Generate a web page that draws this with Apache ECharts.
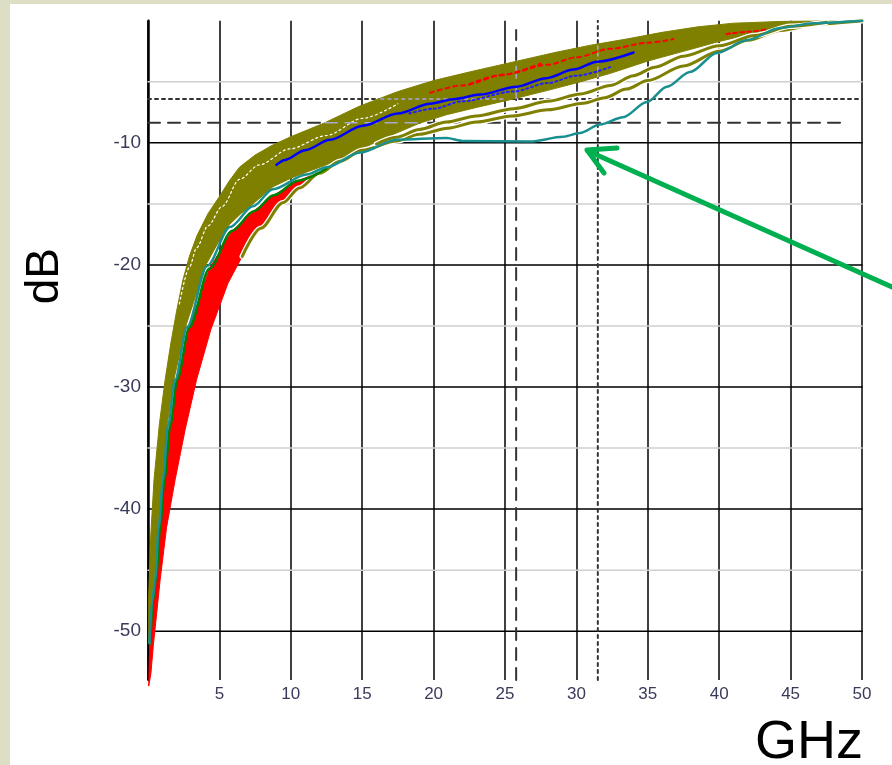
<!DOCTYPE html>
<html><head><meta charset="utf-8">
<script src="https://cdn.jsdelivr.net/npm/echarts@6/dist/echarts.min.js"></script>
<style>
html,body{margin:0;padding:0;background:#dedec4;overflow:hidden;}
#bg{position:absolute;left:10px;top:4px;width:882px;height:761px;background:#fff;}
#chart{position:absolute;left:0;top:0;width:892px;height:765px;}
</style></head><body>
<div id="bg"></div><div id="chart"></div>
<script>
// ---- axis / grid values ----
const xTickStep = 5;
const yMajor = [-10, -20, -30, -40, -50];
const yMinor = [-5, -15, -25, -35, -45];

// ---- olive bundle (upper and lower edges) [GHz, dB] ----
const bandUpper = [[0.05,-47],[0.2,-42],[0.42,-37.6],[0.8,-33],[1.2,-29.4],[1.6,-26.4],[2.0,-23.8],[2.45,-21.2],[2.9,-19.3],[3.43,-17.6],[4.2,-15.8],[5,-14.4],[5.7,-13.1],[6.4,-12.0],[7.5,-11.0],[8.7,-10.2],[10,-9.5],[12.3,-8.4],[14.8,-7.0],[17.5,-5.8],[20,-4.9],[22.5,-4.2],[25.5,-3.4],[28.5,-2.6],[31,-2.0],[33.5,-1.5],[36,-0.95],[38.5,-0.5],[41,-0.2],[44.5,-0.05],[50,0]];
const bandLower = [[0.05,-51],[0.25,-47.5],[0.45,-45.6],[0.7,-41.3],[1.0,-37.4],[1.35,-33.0],[1.85,-29.2],[2.68,-24.9],[3.4,-22.3],[4.1,-19.9],[4.9,-18.2],[5.7,-16.7],[6.5,-15.8],[7.35,-15.0],[8.75,-13.6],[10,-12.9],[11.1,-12.4],[12.5,-11.8],[13.7,-11.2],[14.85,-10.6],[16,-9.9],[17.4,-9.2],[19,-8.4],[20.9,-7.7],[23,-7.1],[25.6,-6.4],[28,-5.7],[30.3,-5.0],[32.4,-4.3],[35,-3.3],[37.5,-2.5],[40,-1.7],[42.5,-1.0],[45,-0.35],[47.5,-0.1],[50,0]];

// ---- red bundle (upper and lower edges) ----
const redUpper = [[0.1,-52],[0.35,-47.5],[0.58,-45.5],[0.85,-41.5],[1.15,-37.6],[1.55,-33.2],[2.05,-29.4],[2.9,-25.1],[4.3,-20.3],[5.9,-17.2],[7.4,-15.6],[8.8,-14.3],[10.5,-13.1],[12.5,-12.2]];
const redLower = [[0.05,-54.5],[0.2,-53.5],[0.37,-51.2],[0.85,-45.8],[1.3,-41.5],[1.9,-37.6],[2.6,-33.5],[3.4,-29.4],[4.4,-25.3],[5.6,-21.5],[6.6,-19.3],[7.9,-17.0],[9.45,-14.9],[11.3,-13.1],[12.5,-12.2]];

// ---- single traces ----
const greenTrace = [[0.15,-51],[0.35,-47.5],[0.58,-45.5],[0.85,-41.5],[1.15,-37.6],[1.55,-33.2],[2.05,-29.4],[2.9,-25.1],[4.3,-20.3],[5.9,-17.2],[7.4,-15.6],[8.8,-14.3],[10.5,-13.1],[12.5,-12.1]];
const tealTrace = [[0.1,-51],[0.3,-47.5],[0.5,-45.8],[0.75,-41.5],[1.05,-37.6],[1.4,-33.2],[1.9,-29.4],[2.73,-25.1],[4.13,-20.1],[5.74,-16.9],[7.35,-15.2],[8.75,-13.8],[11.1,-12.6],[12.5,-12.0],[14.85,-10.8],[17.4,-9.75],[20.9,-9.6],[22.1,-9.85],[26.75,-9.9],[29.06,-9.5],[30.25,-9.2],[31.65,-8.5],[33.26,-7.9],[34.94,-6.65],[36.34,-5.4],[37.95,-4.2],[39.85,-2.64],[41.95,-1.57],[44.26,-0.6],[46.57,-0.2],[50,0]];
const oliveA = [[6.6,-19.3],[7.9,-17.0],[9.45,-14.9],[10.6,-13.7],[12,-12.5],[13.45,-11.5],[15,-10.6],[17.4,-9.85],[19,-9.3],[21,-8.8],[23,-8.3],[25.5,-7.8],[28,-7.3],[30.5,-6.75],[32,-6.3],[33.5,-5.6],[35,-4.9],[37.5,-3.7],[40,-2.5],[42,-1.6],[44.3,-0.8],[47,-0.25],[50,0]];
const oliveB = [[16,-10.1],[17.4,-9.55],[19,-8.9],[20.9,-8.3],[23,-7.8],[25.6,-7.2],[28,-6.6],[30.3,-6.0],[32.4,-5.3],[34,-4.5],[35.5,-3.8],[37.5,-2.9],[40,-2.05],[42.5,-1.2],[45,-0.45],[47.5,-0.12]];
const blueMain = [[9.0,-11.8],[9.6,-11.4],[11,-10.6],[12.75,-9.75],[15.05,-8.6],[17.5,-7.6],[19.75,-6.8],[21.5,-6.4],[23.25,-6.05],[25.8,-5.4],[27.9,-4.7],[29.8,-4.0],[31.45,-3.35],[34,-2.6]];
const blueDotted = [[18.3,-7.6],[20,-7.2],[22,-6.6],[25.6,-5.8],[28,-5.1],[30,-4.5],[32.35,-3.8]];
const redDots1 = [[19.75,-5.9],[22,-5.3],[25,-4.4],[28,-3.6],[30,-3.0],[32.35,-2.3],[35,-1.8],[36.8,-1.5]];
const redDots2 = [[22.5,-5.2],[24.5,-4.5],[27.5,-3.5]];
const redDots3 = [[40.5,-1.1],[42,-0.9],[43.3,-0.7]];
const whiteGap1 = [[2.2,-23.2],[2.9,-20.2],[3.4,-18.6],[4.2,-16.8],[5.2,-15.2],[6.4,-13.0],[7.8,-11.8],[9.9,-10.5],[12.5,-9.4],[15,-8.0],[17.5,-6.8]];

// ---- reference markers ----
const vDashX = 25.78, vDashTop = -0.75;
const vDotX = 31.5;
const hDotY = -6.4;
const hDashY = -8.35, hDashEnd = 49;
const yMin = -54, yMax = 0;
// parts of the markers that cross the olive bundle (drawn light on top of it)
const hDashOverBand = [12.4, 19.1];   // GHz range at hDashY
const hDotOverBand = [16.3, 25.0];    // GHz range at hDotY
const vDashOverBand = [-6.35, -3.35]; // dB range at vDashX
const vDotOverBand = [-4.6, -1.9];    // dB range at vDotX

function polygon(name, upper, lower, color, z) {
  return {
    type: 'custom', name, z, silent: true, data: [[0, 0]],
    renderItem: function (params, api) {
      const pts = upper.map(p => api.coord(p)).concat(lower.slice().reverse().map(p => api.coord(p)));
      return { type: 'polygon', shape: { points: pts }, style: { fill: color, stroke: color, lineWidth: 1 } };
    }
  };
}
function line(data, color, width, z, type, smooth) {
  return {
    type: 'line', data, z, silent: true, showSymbol: false, symbol: 'none',
    smooth: smooth === undefined ? 0.3 : smooth, smoothMonotone: 'x',
    lineStyle: { color, width, type: type || 'solid', cap: 'round' }
  };
}

const series = [];
// grid horizontals
yMajor.forEach(v => series.push(line([[0, v], [50, v]], '#000', 1.5, 1, 'solid', false)));
yMinor.forEach(v => series.push(line([[0, v], [50, v]], '#d0d0d0', 1.5, 1, 'solid', false)));
// reference lines
series.push(line([[vDashX, yMin], [vDashX, vDashTop]], '#333', 2, 1, [12, 8], false));
series.push(line([[vDotX, yMin], [vDotX, yMax]], '#333', 2, 1, [3, 4], false));
series.push(line([[0, hDotY], [50, hDotY]], '#333', 2, 1, [3, 4], false));
series.push(line([[0, hDashY], [hDashEnd, hDashY]], '#333', 2, 1, [12, 8], false));
// bundles
series.push(polygon('olive', bandUpper, bandLower, '#808000', 3));
series.push(polygon('red', redUpper, redLower, '#ff0000', 3));
series.push(line(whiteGap1, '#ffffff', 1.2, 4, [2, 3]));
series.push(line(oliveA, '#ffffff', 5.5, 4));
series.push(line(oliveA, '#808000', 3, 4));
series.push(line(oliveB, '#ffffff', 5.5, 4));
series.push(line(oliveB, '#808000', 3, 4));
series.push(line(greenTrace, '#008000', 2.5, 5));
series.push(line(tealTrace, '#1a8f8f', 2.5, 6));
series.push(line(redDots1, '#ff0000', 2, 5, [4, 4]));
series.push(line(redDots2, '#ff0000', 2, 5, [4, 4]));
series.push(line(redDots3, '#ff0000', 2, 5, [4, 3]));
series.push(line(blueMain, '#0000ff', 2.5, 5));
series.push(line(blueDotted, '#2020ff', 2, 5, [2, 3]));
// light marker segments over the olive bundle
const lav = '#a8a8d8';
series.push(line([[hDashOverBand[0], hDashY], [hDashOverBand[1], hDashY]], lav, 1.5, 4, [12, 8], false));
series.push(line([[hDotOverBand[0], hDotY], [hDotOverBand[1], hDotY]], lav, 1.5, 4, [3, 4], false));
series.push(line([[vDashX, vDashOverBand[0]], [vDashX, vDashOverBand[1]]], lav, 1.5, 4, [12, 8], false));
series.push(line([[vDotX, vDotOverBand[0]], [vDotX, vDotOverBand[1]]], lav, 1.5, 4, [3, 4], false));

const chart = echarts.init(document.getElementById('chart'), null, { renderer: 'canvas' });
chart.setOption({
  backgroundColor: 'transparent',
  animation: false,
  grid: { left: 148, right: 30, top: 20.75, bottom: 85, containLabel: false },
  xAxis: {
    type: 'value', min: 0, max: 50, interval: xTickStep,
    axisLine: { show: false }, axisTick: { show: false },
    axisLabel: { margin: 6, fontSize: 17, color: '#3a3a5a', fontFamily: 'Liberation Sans, Arial',
      formatter: v => v === 0 ? '' : String(v) },
    splitLine: { show: true, lineStyle: { color: '#000', width: 1.5 } }
  },
  yAxis: {
    type: 'value', min: yMin, max: yMax, interval: 2,
    axisLine: { show: true, onZero: false, lineStyle: { color: '#000', width: 2.5 } },
    axisTick: { show: false },
    axisLabel: { margin: 7, fontSize: 19, color: '#3a3a5a', fontFamily: 'Liberation Sans, Arial',
      formatter: v => (v % 10 === 0 && v !== 0) ? String(v) : '' },
    splitLine: { show: false }
  },
  graphic: [
    { type: 'text', left: 22, top: 248, rotation: Math.PI / 2, style: { text: 'dB', fontSize: 46, fontFamily: 'Liberation Sans, Arial', fill: '#000' } },
    { type: 'text', right: 29, top: 716, style: { text: 'GHz', fontSize: 54, fontFamily: 'Liberation Sans, Arial', fill: '#000' } },
    { type: 'polyline', z: 100, shape: { points: [[892, 287], [588, 151]] }, style: { stroke: '#00b050', lineWidth: 5, lineCap: 'round' } },
    { type: 'polyline', z: 100, shape: { points: [[617, 148], [587, 150], [604, 173]] }, style: { stroke: '#00b050', lineWidth: 5, lineCap: 'round', lineJoin: 'round', fill: null } }
  ],
  series
});
</script></body></html>
